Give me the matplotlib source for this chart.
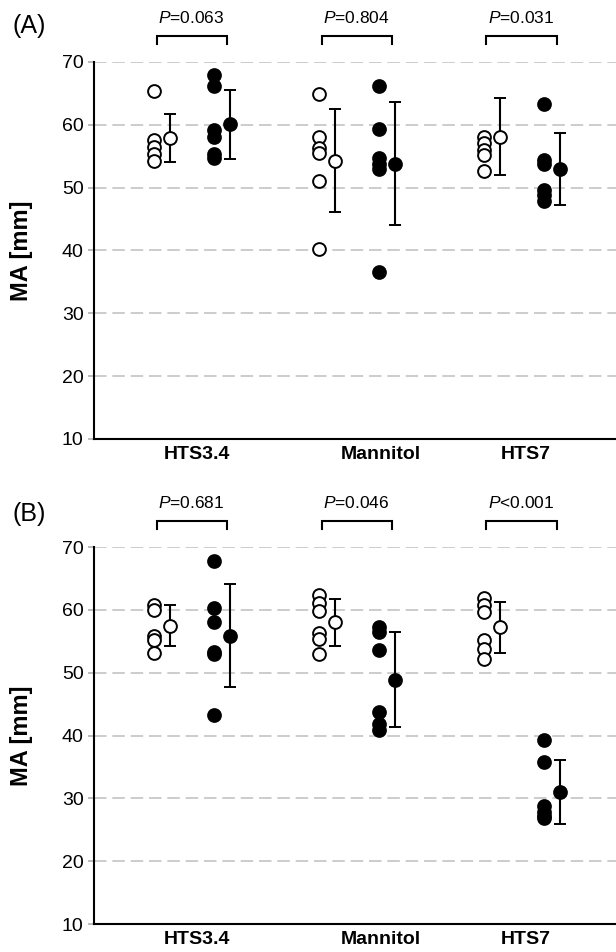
import matplotlib
matplotlib.use('Agg')
import matplotlib.pyplot as plt

plt.rcParams['font.family'] = ['Liberation Sans', 'DejaVu Sans']
plt.rcParams['mathtext.fontset'] = 'custom'
plt.rcParams['mathtext.rm'] = 'Liberation Sans'
plt.rcParams['mathtext.it'] = 'Liberation Sans:italic'

groups = ['HTS3.4', 'Mannitol', 'HTS7']

# panel A: individual values (open = before, filled = after)
a_open = [[65.4, 57.6, 56.5, 55.3, 54.2],
          [64.9, 58.1, 56.3, 55.5, 51.1, 40.2],
          [58.1, 57.1, 56.0, 55.2, 52.7]]
a_filled = [[67.9, 66.1, 59.2, 58.1, 55.3, 54.7],
            [66.1, 59.4, 54.7, 53.7, 52.9, 36.5],
            [63.3, 54.4, 53.7, 49.7, 48.9, 47.8]]
a_open_mean = [57.9, 54.3, 58.1]
a_open_sd = [3.85, 8.2, 6.1]
a_filled_mean = [60.1, 53.8, 53.0]
a_filled_sd = [5.5, 9.8, 5.75]
a_pvals = ['=0.063', '=0.804', '=0.031']

# panel B
b_open = [[60.8, 59.9, 55.8, 55.2, 53.2],
          [62.4, 61.1, 59.8, 56.3, 55.4, 53.0],
          [61.9, 60.8, 59.7, 55.2, 53.7, 52.1]]
b_filled = [[67.8, 60.3, 58.1, 53.3, 53.0, 43.2],
            [57.3, 56.5, 53.6, 43.7, 41.8, 40.9],
            [39.3, 35.8, 28.8, 27.8, 27.2, 26.8]]
b_open_mean = [57.5, 58.0, 57.2]
b_open_sd = [3.25, 3.7, 4.05]
b_filled_mean = [55.9, 48.9, 31.0]
b_filled_sd = [8.2, 7.5, 5.15]
b_pvals = ['=0.681', '=0.046', '<0.001']

yticks = [10, 20, 30, 40, 50, 60, 70]

# x offsets within a group
OFF_DOTS_OPEN, OFF_MEAN_OPEN = -0.23, -0.135
OFF_DOTS_FILLED, OFF_MEAN_FILLED = 0.135, 0.23
label_offsets = [0.03, 0.145, 0.02]

MS, MEW = 9.2, 1.4


def draw_panel(ax, opens, filleds, om, osd, fm, fsd, pvals):
    for i in range(len(groups)):
        ax.plot([i + OFF_DOTS_OPEN] * len(opens[i]), opens[i], 'o', ms=MS,
                mfc='white', mec='black', mew=MEW, zorder=3, clip_on=False)
        ax.plot([i + OFF_DOTS_FILLED] * len(filleds[i]), filleds[i], 'o', ms=MS,
                mfc='black', mec='black', mew=MEW, zorder=3, clip_on=False)
        ax.errorbar(i + OFF_MEAN_OPEN, om[i], yerr=osd[i], fmt='o', ms=MS,
                    mfc='white', mec='black', mew=MEW, ecolor='black',
                    elinewidth=1.5, capsize=4, capthick=1.5, zorder=4)
        ax.errorbar(i + OFF_MEAN_FILLED, fm[i], yerr=fsd[i], fmt='o', ms=MS,
                    mfc='black', mec='black', mew=MEW, ecolor='black',
                    elinewidth=1.5, capsize=4, capthick=1.5, zorder=4)
        # significance bracket
        x0, x1 = i - 0.215, i + 0.21
        ax.plot([x0, x0, x1, x1], [72.9, 74.1, 74.1, 72.9], color='black',
                lw=1.5, clip_on=False, solid_joinstyle='miter')
        ax.text((x0 + x1) / 2, 77.0, r'$\mathit{P}$' + pvals[i], ha='center',
                va='center', fontsize=12.5)

    ax.set_xlim(-0.594, 2.57)
    ax.set_ylim(10, 70)
    ax.set_yticks(yticks)
    ax.set_xticks([i + o for i, o in enumerate(label_offsets)])
    ax.set_xticklabels(groups, fontweight='bold', fontsize=14)
    ax.tick_params(axis='x', length=0, pad=5)
    ax.tick_params(axis='y', length=4.5, width=1.2, color='#b0b0b0',
                   labelsize=14, pad=3)
    ax.grid(axis='y', color='#c4c4c4', lw=1.2, linestyle=(0, (7.5, 3.5)))
    ax.set_axisbelow(True)
    for s in ['top', 'right']:
        ax.spines[s].set_visible(False)
    for s in ['left', 'bottom']:
        ax.spines[s].set_linewidth(1.5)
    ax.set_ylabel('MA [mm]', fontweight='bold', fontsize=17)
    ax.yaxis.set_label_coords(-0.117, 0.5)


fig = plt.figure(figsize=(6.16, 9.52), dpi=100)
ax_a = fig.add_axes([0.1526, 0.5389, 0.8474, 0.396])
ax_b = fig.add_axes([0.1526, 0.0294, 0.8474, 0.396])

draw_panel(ax_a, a_open, a_filled, a_open_mean, a_open_sd,
           a_filled_mean, a_filled_sd, a_pvals)
draw_panel(ax_b, b_open, b_filled, b_open_mean, b_open_sd,
           b_filled_mean, b_filled_sd, b_pvals)

fig.text(12 / 616, 1 - 26 / 952, '(A)', fontsize=18, va='center', ha='left')
fig.text(12 / 616, 1 - 514 / 952, '(B)', fontsize=18, va='center', ha='left')

fig.savefig('out.png', dpi=100)
